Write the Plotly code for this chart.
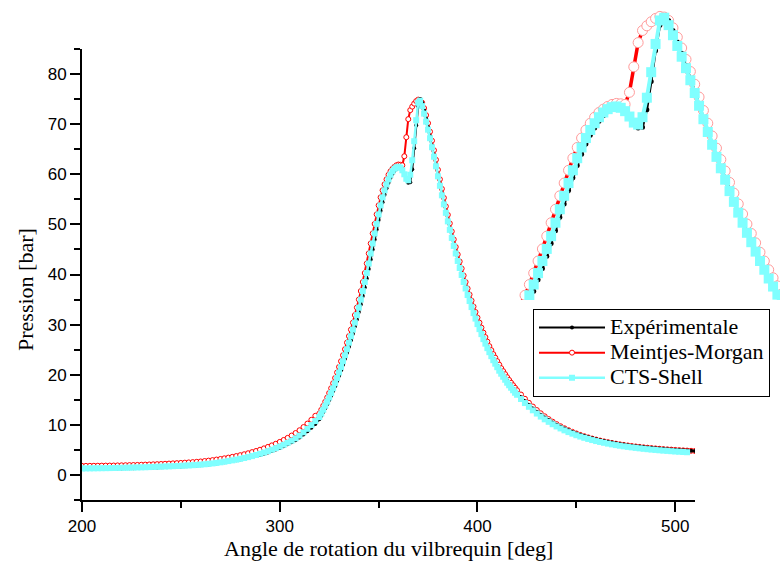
import plotly.graph_objects as go

# Crank angle grid [deg]: 2-deg steps away from TDC, 1-deg steps around combustion
angle = list(range(200, 320, 2)) + list(range(320, 421)) + list(range(422, 511, 2))

# Measured cylinder pressure [bar]
p_exp = [
    1.18, 1.19, 1.20, 1.21, 1.22, 1.23, 1.24, 1.25, 1.26, 1.28,
    1.30, 1.32, 1.34, 1.36, 1.38, 1.40, 1.42, 1.45, 1.48, 1.51,
    1.54, 1.57, 1.60, 1.63, 1.66, 1.70, 1.74, 1.78, 1.83, 1.88,
    1.94, 2.01, 2.09, 2.18, 2.28, 2.39, 2.51, 2.64, 2.77, 2.91,
    3.06, 3.22, 3.39, 3.58, 3.78, 4.00, 4.24, 4.50, 4.78, 5.08,
    5.40, 5.74, 6.11, 6.51, 6.94, 7.45, 8.05, 8.70, 9.40, 10.15,
    11.10, 11.80, 12.55, 13.30, 14.10, 14.95, 15.80, 16.75, 17.70, 18.75,
    19.80, 20.90, 22.00, 23.20, 24.40, 25.60, 26.90, 28.20, 29.60, 31.00,
    32.50, 34.00, 35.70, 37.40, 39.20, 41.10, 43.00, 45.00, 47.00, 49.00,
    50.90, 52.70, 54.40, 55.90, 57.20, 58.30, 59.30, 60.10, 60.70, 61.10,
    61.30, 61.20, 60.80, 60.00, 59.00, 58.30, 58.40, 61.00, 65.20, 69.80,
    73.60, 75.00, 74.30, 72.80, 71.10, 69.40, 67.60, 65.70, 63.80, 61.80,
    59.80, 57.90, 56.00, 54.20, 52.50, 50.80, 49.10, 47.50, 45.90, 44.40,
    42.90, 41.50, 40.10, 38.70, 37.40, 36.10, 34.90, 33.70, 32.50, 31.40,
    30.30, 29.30, 28.30, 27.40, 26.50, 25.60, 24.80, 24.00, 23.20, 22.50,
    21.80, 21.10, 20.50, 19.90, 19.30, 18.75, 18.20, 17.70, 17.20, 16.70,
    16.30,
    15.50, 14.70, 13.95, 13.25, 12.60, 12.00, 11.45, 10.95, 10.47, 10.03,
    9.63, 9.25, 8.90, 8.58, 8.28, 8.01, 7.76, 7.53, 7.31, 7.11,
    6.93, 6.76, 6.60, 6.45, 6.31, 6.18, 6.06, 5.95, 5.85, 5.75,
    5.66, 5.57, 5.49, 5.41, 5.34, 5.27, 5.21, 5.15, 5.09, 5.03,
    4.98, 4.93, 4.88, 4.84, 4.80,
]

# Meintjes-Morgan model [bar]
p_mm = [
    1.80, 1.81, 1.82, 1.83, 1.84, 1.85, 1.86, 1.87, 1.88, 1.90,
    1.92, 1.94, 1.96, 1.98, 2.00, 2.03, 2.06, 2.09, 2.12, 2.15,
    2.19, 2.23, 2.27, 2.31, 2.35, 2.40, 2.45, 2.50, 2.56, 2.62,
    2.69, 2.77, 2.86, 2.96, 3.07, 3.19, 3.32, 3.46, 3.61, 3.77,
    3.94, 4.13, 4.33, 4.55, 4.78, 5.03, 5.30, 5.59, 5.90, 6.23,
    6.59, 6.98, 7.40, 7.86, 8.36, 8.92, 9.55, 10.25, 11.00, 11.80,
    12.25, 13.00, 13.80, 14.60, 15.45, 16.35, 17.30, 18.30, 19.35, 20.45,
    21.55, 22.70, 23.90, 25.10, 26.40, 27.70, 29.00, 30.40, 31.90, 33.40,
    35.00, 36.70, 38.50, 40.30, 42.20, 44.20, 46.20, 48.20, 50.10, 52.00,
    53.80, 55.40, 56.80, 58.00, 59.00, 59.90, 60.60, 61.10, 61.50, 61.80,
    61.95, 61.90, 61.80, 63.60, 67.40, 71.00, 72.80, 73.50, 74.10, 74.60,
    74.90, 74.80, 74.30, 73.20, 71.80, 70.20, 68.50, 66.70, 64.80, 62.90,
    60.90, 59.00, 57.10, 55.30, 53.60, 51.90, 50.20, 48.60, 47.00, 45.50,
    44.00, 42.60, 41.20, 39.80, 38.50, 37.20, 36.00, 34.80, 33.60, 32.50,
    31.40, 30.40, 29.40, 28.40, 27.50, 26.60, 25.70, 24.90, 24.10, 23.40,
    22.70, 22.00, 21.30, 20.70, 20.10, 19.50, 18.95, 18.40, 17.90, 17.40,
    16.90,
    16.05, 15.20, 14.40, 13.65, 12.95, 12.30, 11.70, 11.15, 10.63, 10.15,
    9.72, 9.31, 8.94, 8.60, 8.28, 7.99, 7.73, 7.49, 7.26, 7.05,
    6.86, 6.69, 6.53, 6.38, 6.24, 6.11, 5.99, 5.88, 5.78, 5.68,
    5.59, 5.51, 5.43, 5.36, 5.29, 5.22, 5.16, 5.10, 5.05, 5.00,
    4.95, 4.90, 4.86, 4.82, 4.78,
]

# CTS-Shell model [bar] (stops at 506 deg)
p_cts = [
    1.30, 1.31, 1.32, 1.33, 1.34, 1.35, 1.36, 1.37, 1.38, 1.40,
    1.42, 1.44, 1.46, 1.48, 1.50, 1.52, 1.54, 1.57, 1.60, 1.63,
    1.66, 1.69, 1.72, 1.75, 1.78, 1.82, 1.86, 1.90, 1.95, 2.00,
    2.06, 2.13, 2.21, 2.30, 2.40, 2.52, 2.64, 2.77, 2.91, 3.05,
    3.21, 3.38, 3.56, 3.76, 3.98, 4.22, 4.47, 4.74, 5.03, 5.34,
    5.67, 6.03, 6.42, 6.84, 7.30, 7.85, 8.50, 9.20, 9.95, 10.75,
    11.55, 12.25, 13.00, 13.80, 14.60, 15.45, 16.35, 17.30, 18.30, 19.35,
    20.45, 21.55, 22.70, 23.90, 25.10, 26.40, 27.70, 29.00, 30.40, 31.90,
    33.40, 35.00, 36.70, 38.50, 40.30, 42.20, 44.20, 46.20, 48.20, 50.10,
    52.00, 53.80, 55.40, 56.80, 58.00, 59.00, 59.90, 60.60, 61.10, 61.40,
    61.50, 61.30, 60.80, 60.00, 59.10, 58.80, 59.90, 62.80, 66.60, 70.80,
    74.30, 74.70, 73.60, 72.10, 70.50, 68.90, 67.20, 65.40, 63.50, 61.60,
    59.60, 57.70, 55.80, 54.00, 52.30, 50.60, 48.90, 47.30, 45.70, 44.20,
    42.70, 41.30, 39.90, 38.50, 37.20, 35.90, 34.70, 33.50, 32.30, 31.20,
    30.10, 29.10, 28.10, 27.10, 26.20, 25.30, 24.50, 23.70, 22.90, 22.20,
    21.50, 20.80, 20.20, 19.60, 19.00, 18.40, 17.90, 17.40, 16.90, 16.40,
    16.00,
    15.15, 14.35, 13.60, 12.90, 12.25, 11.65, 11.10, 10.60, 10.12, 9.68,
    9.28, 8.90, 8.55, 8.23, 7.93, 7.66, 7.41, 7.18, 6.96, 6.76,
    6.58, 6.41, 6.25, 6.10, 5.96, 5.83, 5.71, 5.60, 5.50, 5.40,
    5.31, 5.22, 5.14, 5.06, 4.99, 4.92, 4.86, 4.80, 4.74, 4.68,
    4.63, 4.58, 4.53,
]

series_names = ["Expérimentale", "Meintjes-Morgan", "CTS-Shell"]
x_ticks = [200, 300, 400, 500]
y_ticks = [0, 10, 20, 30, 40, 50, 60, 70, 80]

CYAN = "#80ffff"
SERIF = "Liberation Serif, Times New Roman, serif"
SANS = "Liberation Sans, Arial, sans-serif"

W, H = 780, 571
# plot-area edges in pixels
L_PX, R_PX, T_PX, B_PX = 82, 695, 49, 500
# magnified peak view edges in pixels
IL_PX, IR_PX, IT_PX, IB_PX = 515, 780, 8, 300


def legend_label(text):
    # legend rows are spaced from the legend font size; the label itself is drawn larger
    return "<span style='font-size:22px'>" + text + "</span>"


fig = go.Figure()


def add_series(xa, ya, big, legend):
    fig.add_trace(go.Scatter(
        x=angle[:len(p_mm)], y=p_mm, name=legend_label(series_names[1]), mode="lines+markers",
        line=dict(color="red", width=3.5 if big else 2),
        marker=dict(symbol="circle", size=10 if big else 5, color="white",
                    line=dict(color="#ff9a9a" if big else "red", width=1)),
        xaxis=xa, yaxis=ya, showlegend=legend, legendrank=2))
    fig.add_trace(go.Scatter(
        x=angle[:len(p_exp)], y=p_exp, name=legend_label(series_names[0]), mode="lines+markers",
        line=dict(color="black", width=2.5 if big else 2),
        marker=dict(symbol="circle", size=5 if big else 4, color="black"),
        xaxis=xa, yaxis=ya, showlegend=legend, legendrank=1))
    fig.add_trace(go.Scatter(
        x=angle[:len(p_cts)], y=p_cts, name=legend_label(series_names[2]), mode="lines+markers",
        line=dict(color=CYAN, width=4 if big else 2.5),
        marker=dict(symbol="square", size=10 if big else 6, color=CYAN),
        xaxis=xa, yaxis=ya, showlegend=legend, legendrank=3))


add_series("x", "y", False, True)
add_series("x2", "y2", True, False)

fig.update_layout(
    width=W, height=H,
    margin=dict(l=0, r=0, t=0, b=0),
    paper_bgcolor="white", plot_bgcolor="white",
    showlegend=True,
    xaxis=dict(
        domain=[L_PX / W, R_PX / W], range=[200, 510],
        tickmode="array", tickvals=x_ticks,
        ticks="outside", ticklen=10, tickwidth=2, tickcolor="black",
        minor=dict(dtick=50, tick0=200, ticks="outside", ticklen=6, tickwidth=2, tickcolor="black"),
        showline=True, linecolor="black", linewidth=2,
        showgrid=False, zeroline=False, automargin=False,
        tickfont=dict(family=SANS, size=17, color="black"),
    ),
    yaxis=dict(
        domain=[1 - B_PX / H, 1 - T_PX / H], range=[-5, 85],
        tickmode="array", tickvals=y_ticks,
        ticks="outside", ticklen=10, tickwidth=2, tickcolor="black",
        minor=dict(dtick=5, tick0=-5, ticks="outside", ticklen=6, tickwidth=2, tickcolor="black"),
        showline=True, linecolor="black", linewidth=2,
        showgrid=False, zeroline=False, automargin=False,
        tickfont=dict(family=SANS, size=17, color="black"),
    ),
    xaxis2=dict(
        domain=[IL_PX / W, IR_PX / W], range=[336.7, 397.6],
        visible=False, anchor="y2",
    ),
    yaxis2=dict(
        domain=[1 - IB_PX / H, 1 - IT_PX / H], range=[32.7, 76.15],
        visible=False, anchor="x2",
    ),
    legend=dict(
        x=533 / W, y=1 - 309 / H, xanchor="left", yanchor="top",
        bgcolor="white", bordercolor="black", borderwidth=1,
        font=dict(family=SERIF, size=17, color="black"),
        itemwidth=66, tracegroupgap=0,
    ),
    annotations=[
        dict(text="Angle de rotation du vilbrequin [deg]", xref="paper", yref="paper",
             x=(L_PX + R_PX) / 2 / W, y=1 - 548 / H, xanchor="center", yanchor="middle",
             showarrow=False, font=dict(family=SERIF, size=22, color="black")),
        dict(text="Pression [bar]", xref="paper", yref="paper",
             x=25 / W, y=1 - 290 / H, xanchor="center", yanchor="middle", textangle=-90,
             showarrow=False, font=dict(family=SERIF, size=22, color="black")),
    ],
)

fig.write_html("out.html")
